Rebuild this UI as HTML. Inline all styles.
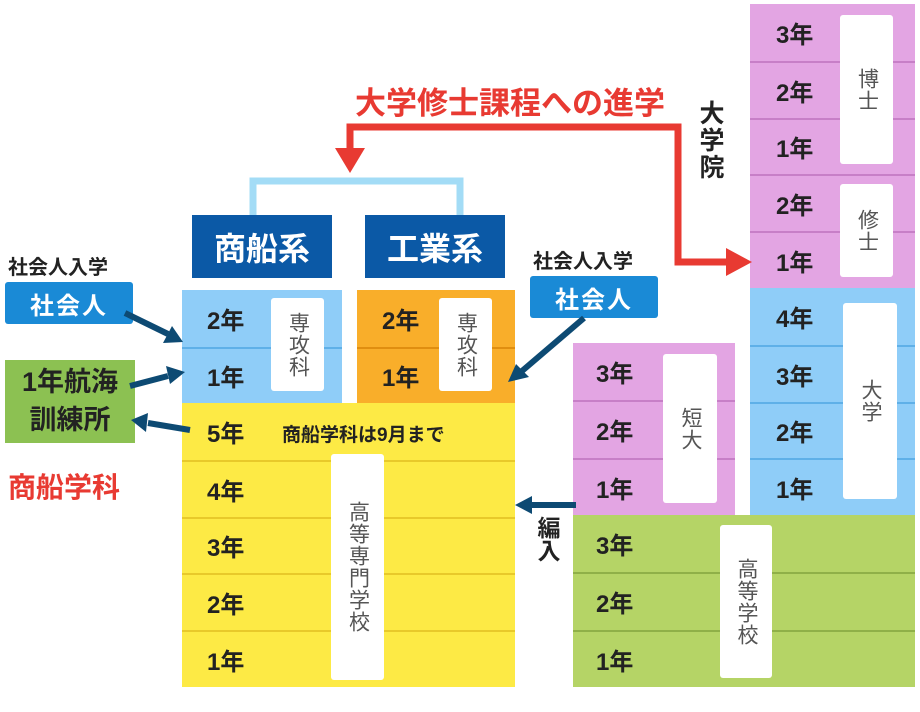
<!DOCTYPE html>
<html><head><meta charset="utf-8"><style>
*{margin:0;padding:0;box-sizing:border-box}
body{width:920px;height:712px;background:#fff;position:relative;overflow:hidden;font-family:"Liberation Sans","Noto Sans CJK JP",sans-serif;color:#222}
.a{position:absolute}
.row{position:absolute;font-size:24px;font-weight:bold;display:flex;align-items:center}
.wb{position:absolute;background:#fff;border-radius:3px;color:#555;font-size:21px;display:flex;align-items:center;justify-content:center;writing-mode:vertical-rl;letter-spacing:1px}
.hd{position:absolute;background:#0b59a6;color:#fff;font-size:32px;font-weight:bold;display:flex;align-items:center;justify-content:center}
.sb{position:absolute;background:#1a8ad6;color:#fff;font-size:24px;font-weight:bold;border-radius:3px;display:flex;align-items:center;justify-content:center;letter-spacing:2px}
</style></head><body>
<div id="blocks"></div>
<script>
function col(x,w,y0,h,n,bg,line,labels,lx){
 let s='';
 for(let i=0;i<n;i++){
  s+=`<div class="row" style="left:${x}px;top:${y0+i*h}px;width:${w}px;height:${h}px;background:${bg};border-top:${i?'2px solid '+line:'none'};padding-left:${lx}px">${labels[i]}</div>`;
 }
 return s;
}
let h='';
h+=col(750,165,4,56.8,5,'#e3a5e3','#c77fc7',['3年','2年','1年','2年','1年'],26);
h+=col(750,165,288,56.75,4,'#8fcdf8','#5fb0e8',['4年','3年','2年','1年'],26);
h+=col(573,342,515,57.3,3,'#b5d466','#8fb048',['3年','2年','1年'],23);
h+=col(573,162,343,57.3,3,'#e3a5e3','#c77fc7',['3年','2年','1年'],23);
h+=col(182,333,403,56.8,5,'#fdea45','#e8c92a',['5年','4年','3年','2年','1年'],25);
h+=col(182,160,290,56.5,2,'#8fcdf8','#5fb0e8',['2年','1年'],25);
h+=col(357,158,290,56.5,2,'#f9ae2a','#e08e10',['2年','1年'],25);
document.getElementById('blocks').innerHTML=h;
</script>
<div class="a" style="left:282px;top:420px;font-size:19px;font-weight:bold;color:#222">商船学科は9月まで</div>
<div class="wb" style="left:840px;top:15px;width:53px;height:149px">博士</div>
<div class="wb" style="left:840px;top:184px;width:53px;height:93px">修士</div>
<div class="wb" style="left:843px;top:303px;width:54px;height:196px">大学</div>
<div class="wb" style="left:663px;top:354px;width:54px;height:149px">短大</div>
<div class="wb" style="left:720px;top:525px;width:52px;height:153px">高等学校</div>
<div class="wb" style="left:331px;top:454px;width:53px;height:226px">高等専門学校</div>
<div class="wb" style="left:271px;top:298px;width:53px;height:93px">専攻科</div>
<div class="wb" style="left:439px;top:298px;width:53px;height:93px">専攻科</div>
<div class="hd" style="left:192px;top:215px;width:140px;height:63px">商船系</div>
<div class="hd" style="left:365px;top:215px;width:140px;height:63px">工業系</div>
<div class="a" style="left:8px;top:251px;font-size:20px;font-weight:bold">社会人入学</div>
<div class="sb" style="left:5px;top:282px;width:128px;height:42px">社会人</div>
<div class="a" style="left:533px;top:245px;font-size:20px;font-weight:bold">社会人入学</div>
<div class="sb" style="left:530px;top:276px;width:128px;height:42px">社会人</div>
<div class="a" style="left:5px;top:360px;width:130px;height:83px;background:#8cc152;font-size:27px;font-weight:bold;text-align:center;line-height:38px;padding-top:3px">1年航海<br>訓練所</div>
<div class="a" style="left:8px;top:466px;font-size:28px;font-weight:bold;color:#e83a32">商船学科</div>
<div class="a" style="left:355px;top:78px;font-size:31px;font-weight:bold;color:#e83a32;white-space:nowrap">大学修士課程への進学</div>
<div class="a" style="left:696px;top:100px;font-size:25px;font-weight:bold;writing-mode:vertical-rl;line-height:28px;letter-spacing:2px">大学院</div>
<div class="a" style="left:530px;top:516px;font-size:23px;font-weight:bold;writing-mode:vertical-rl">編入</div>
<svg class="a" style="left:0;top:0" width="920" height="712">
<polyline points="253,215 253,181 460,181 460,215" fill="none" stroke="#a3dcf6" stroke-width="7"/>
<polyline points="350,150 350,127 678,127 678,262 728,262" fill="none" stroke="#e83a32" stroke-width="7"/>
<polygon points="335,148 365,148 350,173" fill="#e83a32"/>
<polygon points="726,248 752,262 726,276" fill="#e83a32"/>
<g stroke="#0d4a73" stroke-width="6" fill="#0d4a73">
<line x1="125" y1="313" x2="168" y2="334"/>
<polygon points="183,342 163,343 172,326" stroke="none"/>
<line x1="130" y1="386" x2="168" y2="376"/>
<polygon points="185,372 170,384 166,366" stroke="none"/>
<line x1="190" y1="430" x2="148" y2="423"/>
<polygon points="131,420 148,413 146,432" stroke="none"/>
<line x1="576" y1="505" x2="530" y2="505"/>
<polygon points="515,505 532,496 532,514" stroke="none"/>
<line x1="584" y1="318" x2="522" y2="371"/>
<polygon points="508,382 516,364 529,377" stroke="none"/>
</g>
</svg>
</body></html>
